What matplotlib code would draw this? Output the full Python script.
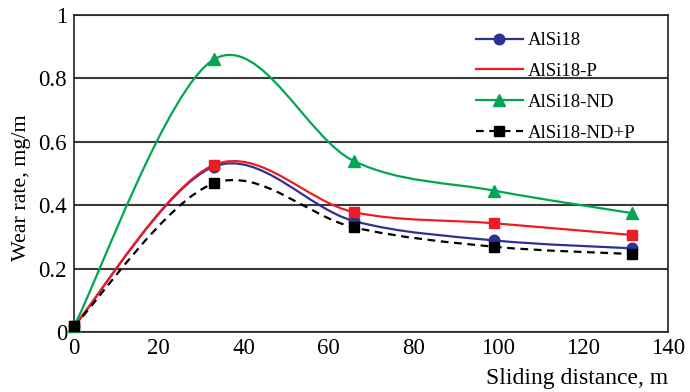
import numpy as np
import matplotlib
matplotlib.use("Agg")
import matplotlib.pyplot as plt
from matplotlib.path import Path
from matplotlib.patches import PathPatch
from matplotlib.lines import Line2D

plt.rcParams['font.family'] = ['Liberation Serif', 'DejaVu Serif']

distance = [0, 33, 66, 99, 131.5]
alsi18 = [0.018, 0.522, 0.350, 0.289, 0.264]
alsi18_p = [0.018, 0.527, 0.378, 0.343, 0.306]
alsi18_nd = [0.018, 0.860, 0.539, 0.446, 0.375]
alsi18_ndp = [0.018, 0.469, 0.330, 0.269, 0.246]

series = [
    ("AlSi18", alsi18, "#2E3192", "o", "-", True),
    ("AlSi18-P", alsi18_p, "#ED1C24", "s", "-", False),
    ("AlSi18-ND", alsi18_nd, "#00A651", "^", "-", True),
    ("AlSi18-ND+P", alsi18_ndp, "#000000", "s", "--", True),
]


def smooth_path(xs, ys):
    pts = np.column_stack([xs, ys]).astype(float)
    n = len(pts)
    verts = [pts[0]]
    codes = [Path.MOVETO]
    for i in range(n - 1):
        p0 = pts[i - 1] if i > 0 else pts[i]
        p1 = pts[i]
        p2 = pts[i + 1]
        p3 = pts[i + 2] if i + 2 < n else pts[i + 1]
        c1 = p1 + (p2 - p0) / 6.0
        c2 = p2 - (p3 - p1) / 6.0
        verts += [c1, c2, p2]
        codes += [Path.CURVE4] * 3
    return Path(verts, codes)


fig = plt.figure(figsize=(6.9, 3.92), dpi=100)
ax = fig.add_axes([74 / 690, 1 - 332 / 392, (668 - 74) / 690, (332 - 15) / 392])

ax.set_xlim(0, 140)
ax.set_ylim(0, 1)
ax.set_xticks(np.arange(0, 141, 20))
ax.set_yticks([0, 0.2, 0.4, 0.6, 0.8, 1.0])
ax.set_yticklabels(["0", "0.2", "0.4", "0.6", "0.8", "1"])
ax.tick_params(length=0, labelsize=16.5)
ax.tick_params(axis="x", pad=4)
ax.tick_params(axis="y", pad=5)
ax.yaxis.grid(True, color="#3a3a3a", lw=1.5)
ax.set_axisbelow(True)
for s in ax.spines.values():
    s.set_color("#222222")
    s.set_linewidth(1.2)

handles = []
for name, ys, col, mk, ls, legmk in series:
    dash = (0, (3.5, 2.5)) if ls == "--" else "-"
    patch = PathPatch(smooth_path(distance, ys), facecolor="none", edgecolor=col,
                      lw=1.6, linestyle=dash, zorder=3)
    ax.add_patch(patch)
    ms = 9 if mk == "^" else 7.6
    ax.plot(distance, ys, linestyle="none", marker=mk, color=col, ms=ms,
            zorder=4, clip_on=False)
    handles.append(Line2D([], [], color=col, lw=1.6, linestyle=dash,
                          marker=mk if legmk else None, ms=ms))

leg = ax.legend(handles, [s[0] for s in series], loc="upper left",
                bbox_to_anchor=((476 - 74) / 594, (332 - 32) / 317),
                frameon=False, fontsize=13.5, handlelength=2.5, labelspacing=0.73,
                handletextpad=0.25, borderpad=0, borderaxespad=0)

ax.set_xlabel("Sliding distance, m", fontsize=17, loc="right", labelpad=6.5)
ax.set_ylabel("Wear rate, mg/m", fontsize=15.8)
ax.yaxis.set_label_coords(-0.072, 0.454)

fig.savefig("out.png", dpi=100)
